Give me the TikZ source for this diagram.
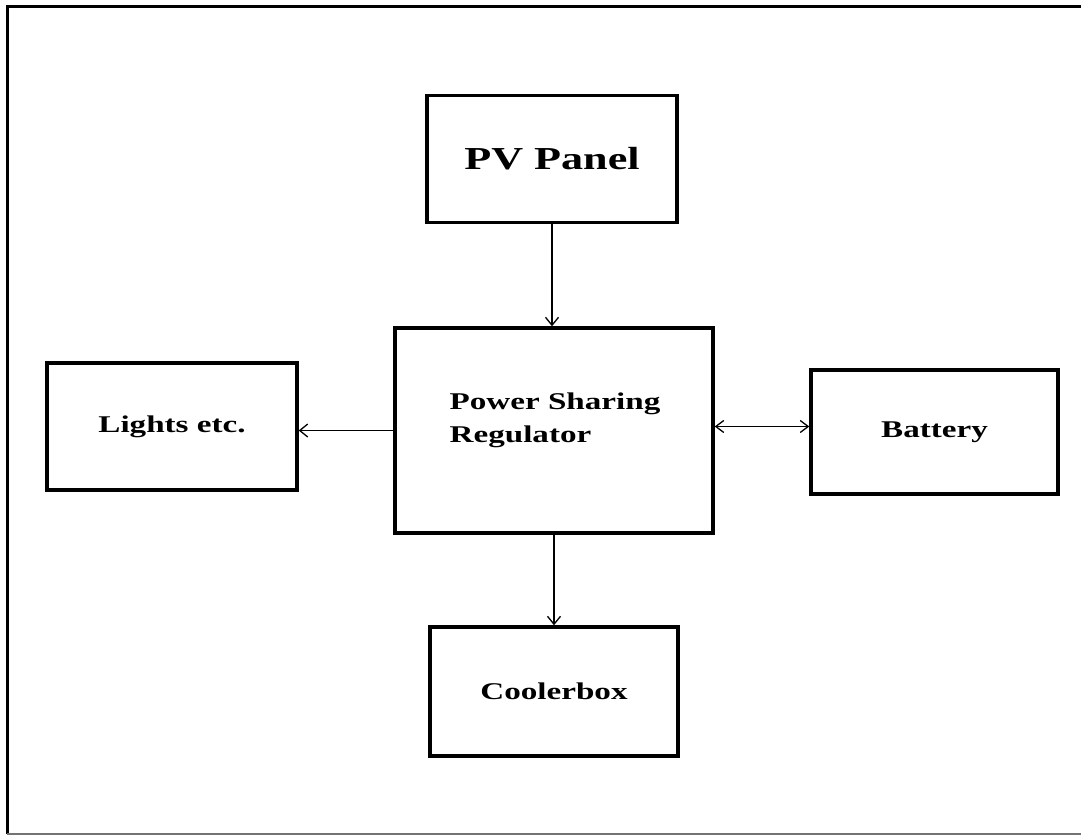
\documentclass[tikz,border=0pt]{standalone}
\usepackage{fontspec}
\setmainfont{Liberation Serif}[FakeStretch=1.38]
\usepackage{tikz}
\usetikzlibrary{arrows.meta,positioning}

\begin{document}
\begin{tikzpicture}[
    x=1pt, y=-1pt,
    blockbox/.style={draw, line width=3.4pt, minimum width=250pt,
                     minimum height=127pt, align=center, inner sep=0pt,
                     font=\fontsize{24}{33}\selectfont\bfseries},
    arr/.style={-{Straight Barb[length=8pt,width=13pt,line width=1.3pt]},
                line width=1.5pt},
    biarr/.style={{Straight Barb[length=8pt,width=12pt,line width=1.3pt]}-{Straight Barb[length=8pt,width=12pt,line width=1.3pt]},
                  line width=1.5pt},
  ]
    \useasboundingbox (0,0) rectangle (1081,836);

    % Outer frame (right side cut off)
    \draw[line width=3pt] (1081,6) -- (7,6) -- (7,834);
    \draw[line width=2pt, black!55] (7,834) -- (1081,834);

    % Blocks
    \node[blockbox, font=\fontsize{32}{38}\selectfont\bfseries] (pv) at (552,159) {PV Panel};
    \node[blockbox, minimum width=318pt, minimum height=205pt] (reg) at (554,430.5) {};
    \node[font=\fontsize{24}{33}\selectfont\bfseries, align=left] (reglbl) at (555,420)
      {Power Sharing\\Regulator};
    \node[blockbox] (lights) at (172,426.5) {Lights etc.};
    \node[blockbox, minimum width=247pt, minimum height=124pt] (batt) at (934.5,432) {Battery};
    \node[blockbox, minimum width=248pt, minimum height=129pt] (cool) at (554,691.5) {Coolerbox};

    % Connectors
    \draw[arr] (pv.south) -- (pv.south |- reg.north);
    \draw[arr] (reg.south) -- (cool.north);
    \draw[arr] (reg.west) -- (reg.west -| lights.east);
    \draw[biarr] ([yshift=4pt]reg.east) -- ([yshift=4pt]reg.east -| batt.west);
  \end{tikzpicture}
\end{document}
